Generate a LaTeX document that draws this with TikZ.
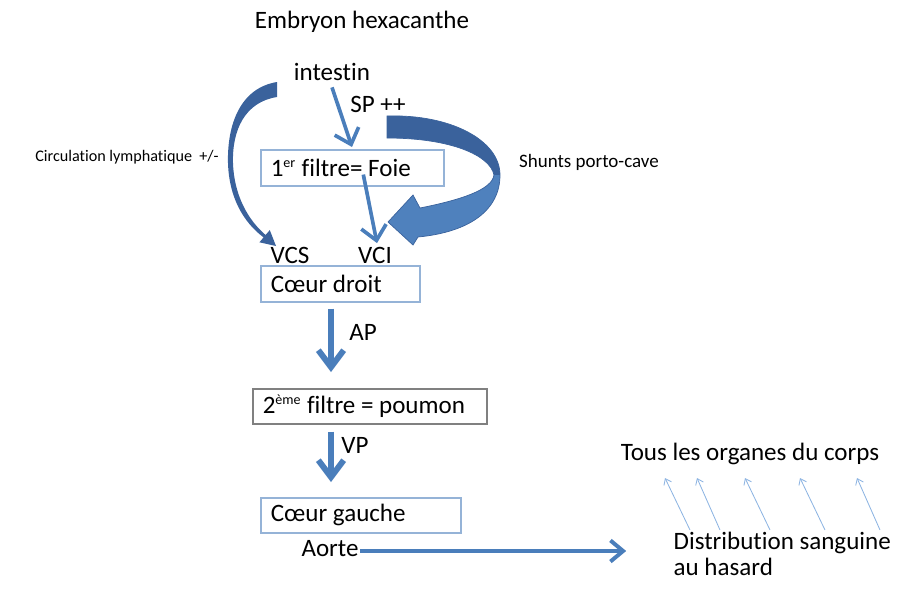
\documentclass[tikz,border=0pt]{standalone}
\usepackage{fontspec}
\setmainfont{Carlito}[Ligatures=NoCommon]
\usetikzlibrary{calc}
\usetikzlibrary{arrows.meta}
\tikzset{>=latex}
\definecolor{flowblue}{RGB}{74,126,187}
\definecolor{shuntdark}{RGB}{58,98,156}
\definecolor{shuntlight}{RGB}{79,129,189}
\definecolor{boxedge}{RGB}{149,179,215}
\definecolor{organblue}{RGB}{141,180,226}
\newcommand{\txtbig}{\fontsize{17.8}{21}\selectfont}
\newcommand{\txtsmall}{\fontsize{11.5}{13}\selectfont}
\newcommand{\txtside}{\fontsize{13.5}{15}\selectfont}
\newcommand{\txtsup}[1]{\textsuperscript{\fontsize{10}{10}\selectfont #1}}
\tikzstyle{organ box}=[draw=boxedge,line width=1.1pt,align=flush left,inner xsep=0.25cm,inner ysep=0pt,font=\txtbig]
\tikzstyle{lung box}=[organ box,draw=gray]
\tikzstyle{label}=[font=\txtbig,inner sep=1pt]
\tikzstyle{side label}=[font=\txtsmall,inner sep=1pt]
\tikzstyle{flow}=[-{Straight Barb[length=10pt,width=18pt]},flowblue,line width=2.6pt]
\tikzstyle{flow thick}=[-{Straight Barb[length=12pt,width=18pt]},flowblue,line width=4.2pt]
\tikzstyle{flow aorta}=[-{Straight Barb[length=9pt,width=15pt]},flowblue,line width=2.8pt]
\tikzstyle{organ arrow}=[-{Straight Barb[length=4pt,width=6pt]},organblue,line width=0.6pt]

\begin{document}
\begin{tikzpicture}[x=0.025cm,y=-0.025cm]
            \useasboundingbox (0,0) rectangle (902,606);

            % TEXTS
            \node[label] (embryon) at (362,22) {Embryon hexacanthe};
            \node[label] (intestin) at (332,72) {intestin};
            \node[label] (sp) at (378,104) {SP ++};
            \node[side label] (lymph) at (127,157) {Circulation lymphatique\ \ +/-};
            \node[side label,font=\txtside] (shunt) at (589,162) {Shunts porto-cave};
            \node[label] (vcs) at (290,255) {VCS};
            \node[label] (vci) at (375,255) {VCI};
            \node[label] (ap) at (363,332) {AP};
            \node[label] (vp) at (355,445) {VP};
            \node[label] (aorte) at (330,549) {Aorte};
            \node[label] (tous) at (750,454) {Tous les organes du corps};
            \node[label,anchor=west] (distrib) at (672,543) {Distribution sanguine};
            \node[label,anchor=west] (hasard) at (672,567) {au hasard};

            % BOXES
            \node[organ box,anchor=north west,minimum width=4.575cm,minimum height=0.9cm,text width=4.075cm]
                (foie) at (260,149) {1\txtsup{er} filtre= Foie};
            \node[organ box,anchor=north west,minimum width=3.975cm,minimum height=0.9cm,text width=3.475cm]
                (cdroit) at (260,265) {Cœur droit};
            \node[lung box,anchor=north west,minimum width=5.85cm,minimum height=0.875cm,text width=5.35cm]
                (poumon) at (252,388) {2\txtsup{ème} filtre = poumon};
            \node[organ box,anchor=north west,minimum width=5cm,minimum height=0.875cm,text width=4.5cm]
                (cgauche) at (260,497) {Cœur gauche};
            \coordinate (aortetip) at ($(aorte.east)+(266,2)$);

            % STRAIGHT ARROWS
            \draw[flow] ($(intestin.south)+(0,5)$) -- ($(foie.north west)+(92,-2)$);
            \draw[flow] ($(foie.south)+(11,-12)$) -- ($(vci.north)+(2,-2)$);
            \draw[flow thick] ($(cdroit.south west)+(71,6)$) -- ($(poumon.north west)+(79,-16)$);
            \draw[flow thick] ($(poumon.south west)+(79,7)$) -- ($(cgauche.north west)+(71,-15)$);
            \draw[flow aorta] ($(aorte.east)+(0,2)$) -- (aortetip);
            \foreach \a/\b in {18/-85,48/-53,98/-5,153/50,208/107}{
              \draw[organ arrow] ($(distrib.west)+(\a,-13)$) -- ($(tous.center)+(\b,24)$);
            }

            % LYMPHATIC ARROW
            \fill[shuntdark] (277,82) .. controls (240,88) and (227,125) .. (228,163)
                .. controls (229,197) and (243,222) .. (263.6,237.4) -- (259.4,242.3)
                -- (276,246) -- (269.8,230.1) -- (265.6,235)
                .. controls (248,220) and (234,195) .. (233,163)
                .. controls (232,130) and (245,102) .. (277,97) -- cycle;

            % SHUNT ARROW
            \def\shuntpath{(387,116) .. controls (450,114) and (500,140) .. (500,175)
                .. controls (500,210) and (470,232) .. (418,237) -- (413,245)
                -- (388,222) -- (413,195) -- (420,208)
                .. controls (460,200) and (492,190) .. (494,175)
                .. controls (490,155) and (450,138) .. (387,138) -- cycle}
            \begin{scope}
              \clip (380,100) rectangle (510,175);
              \fill[shuntdark] \shuntpath;
            \end{scope}
            \begin{scope}
              \clip (380,175) rectangle (510,260);
              \fill[shuntlight] \shuntpath;
            \end{scope}
            \draw[shuntdark,line width=0.5pt] \shuntpath;

        \end{tikzpicture}
\end{document}
